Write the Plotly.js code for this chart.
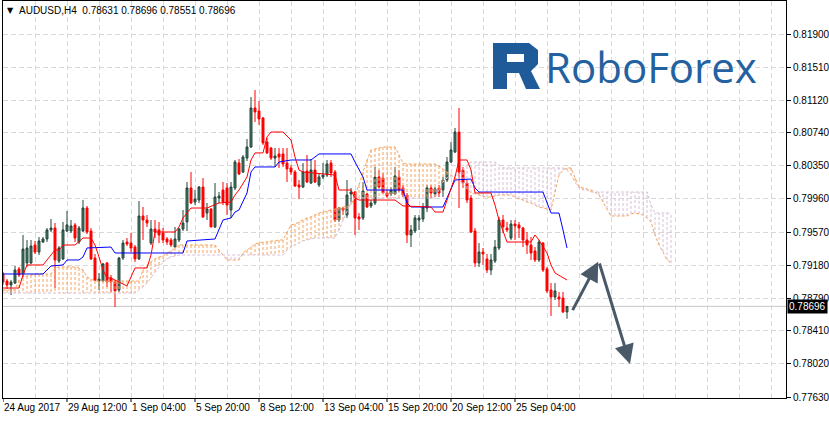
<!DOCTYPE html>
<html><head><meta charset="utf-8">
<script src="https://cdn.plot.ly/plotly-3.0.1.min.js"></script>
<style>html,body{margin:0;padding:0;background:#fff;}#chart{width:829px;height:421px;}</style>
</head><body><div id="chart"></div>
<script>
// ---------------- data ----------------
const symbolTitle = "AUDUSD,H4\u00a0\u00a00.78631 0.78696 0.78551 0.78696";
const lastPrice = 0.78696;

const openP = [0.79077,0.78994,0.78947,0.78971,0.79136,0.79077,0.79207,0.79207,0.79418,0.79335,
0.79453,0.79489,0.79595,0.79618,0.79230,0.79254,0.79583,0.79583,0.79654,0.79453,
0.79583,0.79853,0.79583,0.79265,0.78994,0.78994,0.79207,0.79030,0.78982,0.78889,
0.79265,0.79453,0.79441,0.79394,0.79254,0.79759,0.79712,0.79441,0.79606,0.79595,
0.79559,0.79489,0.79477,0.79394,0.79477,0.79606,0.79689,0.80089,0.79924,0.79947,
0.80100,0.79794,0.79841,0.79630,0.79971,0.80065,0.80089,0.79830,0.80089,0.80383,
0.80277,0.80441,0.80571,0.81030,0.80994,0.80912,0.80630,0.80559,0.80441,0.80489,
0.80489,0.80383,0.80324,0.80277,0.80124,0.80100,0.80288,0.80147,0.80300,0.80124,
0.80218,0.80241,0.80383,0.80277,0.79712,0.79853,0.79771,0.80018,0.80041,0.79748,
0.79736,0.80018,0.79877,0.79912,0.80218,0.80206,0.80030,0.80018,0.80018,0.80218,
0.80089,0.80006,0.79536,0.79583,0.79712,0.79724,0.79853,0.80089,0.80018,0.80089,
0.80065,0.80183,0.80394,0.80512,0.80747,0.80300,0.80147,0.79971,0.79583,0.79207,
0.79335,0.79254,0.79124,0.79230,0.79383,0.79712,0.79618,0.79500,0.79665,0.79654,
0.79618,0.79477,0.79418,0.79347,0.79242,0.79441,0.79136,0.78889,0.78806,0.78806,
0.78794,0.78631];
const highP = [0.79100,0.79018,0.79006,0.79171,0.79160,0.79536,0.79477,0.79477,0.79465,0.79512,
0.79512,0.79618,0.79724,0.79677,0.79406,0.79689,0.79818,0.79712,0.79677,0.79642,
0.79947,0.79877,0.79618,0.79312,0.79089,0.79207,0.79218,0.79065,0.79006,0.79277,
0.79477,0.79500,0.79559,0.79418,0.79935,0.79865,0.79771,0.79712,0.79712,0.79689,
0.79618,0.79512,0.79500,0.79630,0.79618,0.79830,0.80159,0.80277,0.80065,0.80112,
0.80206,0.79912,0.79853,0.80147,0.80041,0.80159,0.80147,0.80159,0.80418,0.80430,
0.80477,0.80665,0.81159,0.81241,0.81112,0.80924,0.80677,0.80571,0.80559,0.80559,
0.80559,0.80559,0.80359,0.80300,0.80183,0.80383,0.80477,0.80430,0.80418,0.80265,
0.80383,0.80418,0.80418,0.80300,0.79865,0.79865,0.80183,0.80089,0.80053,0.79794,
0.80159,0.80030,0.79947,0.80336,0.80300,0.80265,0.80065,0.80100,0.80336,0.80300,
0.80124,0.80030,0.79654,0.79771,0.79771,0.79912,0.80124,0.80124,0.80100,0.80124,
0.80218,0.80453,0.80630,0.80794,0.81030,0.80336,0.80183,0.80006,0.79618,0.79441,
0.79383,0.79312,0.79312,0.79477,0.79748,0.79771,0.79689,0.79712,0.79712,0.79689,
0.79630,0.79571,0.79512,0.79394,0.79477,0.79453,0.79160,0.78971,0.78971,0.78865,
0.78865,0.78696];
const lowP = [0.78947,0.78900,0.78830,0.78959,0.79042,0.79042,0.79160,0.79195,0.79312,0.79300,
0.79441,0.79453,0.79571,0.78912,0.79207,0.79242,0.79571,0.79559,0.79453,0.79430,
0.79571,0.79547,0.79242,0.78994,0.78889,0.78982,0.78924,0.78865,0.78689,0.78865,
0.79242,0.79406,0.79335,0.79218,0.79242,0.79477,0.79630,0.79418,0.79500,0.79441,
0.79441,0.79418,0.79394,0.79394,0.79453,0.79583,0.79583,0.79900,0.79888,0.79912,
0.79736,0.79712,0.79630,0.79618,0.79912,0.79888,0.79771,0.79736,0.80065,0.80241,
0.80265,0.80406,0.80559,0.80865,0.80830,0.80594,0.80489,0.80418,0.80336,0.80324,
0.80336,0.80159,0.80241,0.80100,0.79959,0.80089,0.80147,0.80136,0.80147,0.80100,
0.80194,0.80218,0.80218,0.79689,0.79689,0.79771,0.79736,0.79924,0.79536,0.79595,
0.79712,0.79853,0.79853,0.79888,0.80089,0.80030,0.79971,0.79994,0.80006,0.80041,
0.79982,0.79441,0.79394,0.79559,0.79595,0.79689,0.79806,0.79971,0.79982,0.79982,
0.79982,0.80159,0.80383,0.80500,0.79853,0.80089,0.79912,0.79559,0.79160,0.79160,
0.79183,0.79089,0.79065,0.79207,0.79359,0.79559,0.79571,0.79477,0.79477,0.79500,
0.79394,0.79312,0.79242,0.79218,0.79218,0.79100,0.78853,0.78583,0.78771,0.78689,
0.78618,0.78551];
const closeP = [0.78982,0.78947,0.78982,0.79124,0.79065,0.79371,0.79383,0.79406,0.79335,0.79465,
0.79489,0.79595,0.79618,0.79242,0.79383,0.79595,0.79654,0.79642,0.79500,0.79618,
0.79853,0.79571,0.79254,0.79006,0.79018,0.79195,0.78982,0.78982,0.78877,0.79265,
0.79441,0.79430,0.79383,0.79254,0.79759,0.79712,0.79677,0.79606,0.79571,0.79536,
0.79477,0.79453,0.79418,0.79489,0.79606,0.79677,0.80089,0.79912,0.79959,0.80100,
0.79748,0.79841,0.79630,0.79982,0.79994,0.79924,0.79888,0.80100,0.80394,0.80253,
0.80453,0.80571,0.81030,0.80983,0.80900,0.80618,0.80500,0.80441,0.80465,0.80453,
0.80371,0.80312,0.80277,0.80112,0.80100,0.80277,0.80159,0.80300,0.80159,0.80218,
0.80241,0.80371,0.80265,0.79712,0.79853,0.79830,0.80006,0.80041,0.79736,0.79724,
0.80053,0.79865,0.79912,0.80218,0.80100,0.80030,0.79994,0.80065,0.80230,0.80065,
0.80006,0.79536,0.79595,0.79736,0.79736,0.79865,0.80089,0.80030,0.80077,0.80030,
0.80183,0.80394,0.80536,0.80747,0.80277,0.80147,0.79947,0.79571,0.79207,0.79335,
0.79312,0.79124,0.79242,0.79394,0.79712,0.79630,0.79595,0.79665,0.79642,0.79618,
0.79477,0.79418,0.79324,0.79242,0.79453,0.79124,0.78877,0.78806,0.78877,0.78783,
0.78630,0.78696];

// Tenkan-sen (red) and Kijun-sen (blue): bar index / value at the turning points
const tenkanBar = [0,4,5,6,10,12,13,14,15,18,20,22,23,24,25,26,27,29,31,32,33,36,37,38,43,44,45,47,51,54,57,58,59,61,62,63,65,66,67,70,72,73,74,75,83,84,87,88,89,98,100,107,108,110,112,113,114,116,117,118,122,123,124,126,132,133,134,136,137,138,141];
const tenkanVal = [0.78912,0.78912,0.79065,0.79183,0.79183,0.79300,0.79359,0.79359,0.79418,0.79418,0.79500,0.79500,0.79418,0.79277,0.79124,0.79030,0.79030,0.78982,0.78936,0.79042,0.79148,0.79148,0.79300,0.79571,0.79571,0.79630,0.79736,0.79853,0.79853,0.79912,0.79924,0.80006,0.80065,0.80218,0.80418,0.80501,0.80501,0.80689,0.80747,0.80747,0.80653,0.80453,0.80300,0.80277,0.80241,0.80065,0.80065,0.79971,0.79947,0.79947,0.79877,0.79865,0.79806,0.79806,0.80065,0.80218,0.80418,0.80418,0.80300,0.80030,0.80030,0.79888,0.79712,0.79453,0.79453,0.79536,0.79477,0.79324,0.79183,0.79089,0.79006];
const kijunBar = [0,10,12,15,16,19,20,21,27,28,45,46,53,55,57,58,59,61,62,63,68,69,72,77,79,87,88,90,91,100,101,102,110,112,113,117,118,119,135,137,139,140,141];
const kijunVal = [0.79077,0.79077,0.79171,0.79183,0.79242,0.79242,0.79277,0.79383,0.79394,0.79324,0.79324,0.79465,0.79489,0.79712,0.79736,0.79806,0.79830,0.80030,0.80277,0.80336,0.80336,0.80394,0.80418,0.80418,0.80489,0.80489,0.80394,0.80218,0.80065,0.80065,0.79912,0.79865,0.79865,0.80065,0.80183,0.80194,0.80089,0.80041,0.80041,0.79794,0.79794,0.79595,0.79383];

// Senkou span A / B, one value per bar (bars 0..167, 26 bars beyond the last candle)
const senkouA = [0.78889,0.78889,0.78889,0.78889,0.79006,0.79030,0.79053,0.79065,0.79077,0.79077,
0.79077,0.79077,0.79077,0.79148,0.79160,0.79160,0.79160,0.79160,0.79160,0.79148,
0.79124,0.79042,0.79018,0.78994,0.78994,0.78994,0.78994,0.78994,0.78994,0.78994,
0.78994,0.78994,0.78994,0.78994,0.78994,0.79124,0.79183,0.79218,0.79254,0.79277,
0.79289,0.79324,0.79347,0.79383,0.79418,0.79418,0.79418,0.79418,0.79418,0.79418,
0.79418,0.79418,0.79418,0.79418,0.79359,0.79300,0.79242,0.79242,0.79242,0.79242,
0.79324,0.79359,0.79394,0.79430,0.79441,0.79453,0.79453,0.79465,0.79465,0.79477,
0.79477,0.79571,0.79654,0.79665,0.79689,0.79712,0.79736,0.79748,0.79771,0.79794,
0.79806,0.79818,0.79830,0.79841,0.79853,0.79865,0.79877,0.79888,0.80006,0.80124,
0.80277,0.80418,0.80536,0.80547,0.80559,0.80571,0.80571,0.80571,0.80571,0.80477,
0.80383,0.80371,0.80371,0.80371,0.80371,0.80371,0.80371,0.80371,0.80371,0.80347,
0.80312,0.80277,0.80241,0.80206,0.80183,0.80124,0.80077,0.80030,0.80018,0.80006,
0.79994,0.79982,0.79982,0.79994,0.80006,0.80006,0.80006,0.80006,0.79982,0.79959,
0.79947,0.79924,0.79912,0.79888,0.79865,0.79853,0.79841,0.79830,0.80041,0.80241,
0.80300,0.80324,0.80324,0.80206,0.80100,0.80089,0.80077,0.80065,0.80041,0.80006,
0.79924,0.79841,0.79759,0.79759,0.79759,0.79759,0.79759,0.79783,0.79794,0.79783,
0.79771,0.79736,0.79689,0.79536,0.79418,0.79335,0.79242,0.79207];
const senkouB = [0.78853,0.78853,0.78853,0.78853,0.78853,0.78853,0.78853,0.78853,0.78853,0.78853,
0.78853,0.78853,0.78853,0.78853,0.78853,0.78853,0.78853,0.78853,0.78853,0.78853,
0.78853,0.78853,0.78853,0.78853,0.78853,0.78853,0.78853,0.78853,0.78853,0.78853,
0.78853,0.78853,0.78853,0.78853,0.78889,0.78924,0.78971,0.79030,0.79100,0.79160,
0.79218,0.79254,0.79277,0.79289,0.79300,0.79300,0.79300,0.79300,0.79300,0.79300,
0.79300,0.79300,0.79300,0.79300,0.79300,0.79300,0.79300,0.79300,0.79300,0.79300,
0.79300,0.79300,0.79300,0.79300,0.79300,0.79300,0.79300,0.79300,0.79300,0.79300,
0.79300,0.79359,0.79394,0.79418,0.79441,0.79465,0.79477,0.79489,0.79500,0.79500,
0.79500,0.79500,0.79500,0.79500,0.79595,0.79712,0.79830,0.79924,0.79971,0.79971,
0.79971,0.79971,0.79971,0.79971,0.79971,0.79971,0.79971,0.79971,0.79971,0.79971,
0.79971,0.79971,0.79971,0.79971,0.79971,0.79971,0.79971,0.79971,0.79971,0.80065,
0.80159,0.80206,0.80230,0.80241,0.80241,0.80300,0.80359,0.80394,0.80394,0.80394,
0.80394,0.80394,0.80394,0.80394,0.80359,0.80324,0.80324,0.80324,0.80324,0.80324,
0.80324,0.80324,0.80324,0.80324,0.80324,0.80324,0.80324,0.80324,0.80324,0.80324,
0.80324,0.80300,0.80241,0.80159,0.80089,0.80065,0.80065,0.80041,0.80041,0.80041,
0.80041,0.80041,0.80041,0.80041,0.80041,0.80041,0.80041,0.80041,0.80041,0.80041,
0.80041,0.80041,0.79888,0.79794,0.79794,0.79794,0.79794,0.79794];

const xLabelBars = [0,16,32,48,64,80,96,112,128];
const xLabels = ["24 Aug 2017","29 Aug 12:00","1 Sep 04:00","5 Sep 20:00","8 Sep 12:00","13 Sep 04:00","15 Sep 20:00","20 Sep 12:00","25 Sep 04:00"];
const yTickVals = [0.7763,0.7802,0.7841,0.7879,0.7918,0.7957,0.7996,0.8035,0.8074,0.8112,0.8151,0.8190];
const yTickText = ["0.77630","0.78020","0.78410","0.78790","0.79180","0.79570","0.79960","0.80350","0.80740","0.81120","0.81510","0.81900"];

// forecast arrows: [tail bar, tail price, head bar, head price]
const arrowUp = [142.2, 0.78634, 148.8, 0.79222];
const arrowDown = [149.0, 0.79218, 156.75, 0.78018];

// ---------------- layout geometry ----------------
const W = 829, H = 421, ML = 3, MR = 43, MT = 1, MB = 23;
const PLOT_W = W - ML - MR, PLOT_H = H - MT - MB;
const px = x => (x - ML) / PLOT_W;
const py = y => (H - MB - y) / PLOT_H;

const barIdx = openP.map((_, i) => i);
const spanIdx = senkouA.map((_, i) => i);

// cloud hatching: a dotted vertical stroke per bar between span A and span B
const hatchUp = {x: [], y: []}, hatchDn = {x: [], y: []};
senkouA.forEach((a, i) => {
  const b = senkouB[i];
  const t = a >= b ? hatchUp : hatchDn;
  t.x.push(i, i, null); t.y.push(a, b, null);
});

const FONT = "Liberation Sans, Arial, sans-serif";
const GRID = "#d8d8d8";

const traces = [
  {type: "scatter", mode: "lines", x: hatchUp.x, y: hatchUp.y, line: {color: "#f4a460", width: 1, dash: "3px,2px"}, hoverinfo: "skip"},
  {type: "scatter", mode: "lines", x: hatchDn.x, y: hatchDn.y, line: {color: "#d8bfd8", width: 1, dash: "3px,2px"}, hoverinfo: "skip"},
  {type: "scatter", mode: "lines", x: spanIdx, y: senkouA, line: {color: "#f4a460", width: 1, dash: "3px,2px"}, hoverinfo: "skip"},
  {type: "scatter", mode: "lines", x: spanIdx, y: senkouB, line: {color: "#d8bfd8", width: 1, dash: "3px,2px"}, hoverinfo: "skip"},
  {type: "candlestick", x: barIdx, open: openP, high: highP, low: lowP, close: closeP,
   increasing: {line: {color: "#24443a", width: 1}, fillcolor: "#3e7d62"},
   decreasing: {line: {color: "#ff0000", width: 1}, fillcolor: "#ff0000"},
   whiskerwidth: 0, hoverinfo: "skip"},
  {type: "scatter", mode: "lines", x: kijunBar, y: kijunVal, line: {color: "#0000ff", width: 1}, hoverinfo: "skip"},
  {type: "scatter", mode: "lines", x: tenkanBar, y: tenkanVal, line: {color: "#ff0000", width: 1}, hoverinfo: "skip"}
];

const annotations = [
  {xref: "paper", yref: "paper", x: 0, y: 1, xanchor: "left", yanchor: "top", xshift: 2, yshift: -3,
   text: "\u25BC", showarrow: false, font: {family: "DejaVu Sans", size: 8, color: "#000"}},
  {xref: "paper", yref: "paper", x: 0, y: 1, xanchor: "left", yanchor: "top", xshift: 14, yshift: -2,
   text: symbolTitle, showarrow: false, font: {family: FONT, size: 10, color: "#000"}},
  {xref: "paper", yref: "y", x: 1, y: lastPrice, xanchor: "left", yanchor: "middle", xshift: 1,
   text: lastPrice.toFixed(5), showarrow: false, bgcolor: "#000", borderpad: 1,
   font: {family: FONT, size: 10, color: "#fff"}},
  {xref: "paper", yref: "paper", x: px(543), y: py(66), xanchor: "left", yanchor: "middle",
   text: "RoboForex", showarrow: false, font: {family: "Open Sans, sans-serif", size: 42, color: "#2361a0"}},
  {xref: "x", yref: "y", axref: "x", ayref: "y", x: arrowUp[2], y: arrowUp[3], ax: arrowUp[0], ay: arrowUp[1],
   text: "", showarrow: true, arrowhead: 2, arrowsize: 1.3, arrowwidth: 3, arrowcolor: "#4a5968", standoff: 0},
  {xref: "x", yref: "y", axref: "x", ayref: "y", x: arrowDown[2], y: arrowDown[3], ax: arrowDown[0], ay: arrowDown[1],
   text: "", showarrow: true, arrowhead: 2, arrowsize: 1.3, arrowwidth: 3, arrowcolor: "#4a5968", standoff: 0}
];
xLabelBars.forEach((b, i) => annotations.push({
  xref: "x", yref: "paper", x: b, y: 0, xanchor: "left", yanchor: "top", yshift: -2, xshift: -1,
  text: xLabels[i], showarrow: false, font: {family: FONT, size: 10, color: "#000"}
}));

const shapes = [
  {type: "line", xref: "paper", yref: "y", x0: 0, x1: 1, y0: lastPrice, y1: lastPrice,
   line: {color: "#c8c8c8", width: 1}, layer: "below"}
];
xLabelBars.forEach(b => shapes.push({type: "line", xref: "x", yref: "paper", x0: b, x1: b, y0: 0, y1: -4 / PLOT_H,
  line: {color: "#000", width: 1}}));
// logo mark
const logoPath = "M" + [[493,43],[529,43],[538,50],[538,64],[531,71],[540,89],[526,89],[519,73],[507,73],[507,89],[493,89]]
  .map(p => px(p[0]) + "," + py(p[1])).join(" L") + " Z";
shapes.push({type: "path", xref: "paper", yref: "paper", path: logoPath, fillcolor: "#1f5b99", line: {width: 0}});
shapes.push({type: "rect", xref: "paper", yref: "paper", x0: px(507), x1: px(524), y0: py(62), y1: py(54),
  fillcolor: "#ffffff", line: {width: 0}});

const layout = {
  width: W, height: H,
  margin: {l: ML, r: MR, t: MT, b: MB, pad: 0},
  paper_bgcolor: "#fff", plot_bgcolor: "#fff",
  showlegend: false,
  font: {family: FONT, size: 10, color: "#000"},
  xaxis: {range: [0, PLOT_W / 4], rangeslider: {visible: false}, showticklabels: false,
    tickmode: "linear", tick0: 0, dtick: 8, ticks: "", showgrid: true, gridcolor: GRID, griddash: "5px,3px", gridwidth: 1,
    zeroline: false, showline: true, mirror: true, linecolor: "#000", linewidth: 1, fixedrange: true, automargin: false},
  yaxis: {side: "right", range: [0.776183, 0.822882], tickmode: "array", tickvals: yTickVals, ticktext: yTickText,
    ticks: "outside", ticklen: 4, tickcolor: "#000", tickfont: {family: FONT, size: 10, color: "#000"},
    showgrid: true, gridcolor: GRID, griddash: "5px,3px", gridwidth: 1,
    zeroline: false, showline: true, mirror: true, linecolor: "#000", linewidth: 1, fixedrange: true, automargin: false},
  annotations: annotations,
  shapes: shapes
};

Plotly.newPlot("chart", traces, layout, {staticPlot: true, displayModeBar: false});
</script>
</body></html>
